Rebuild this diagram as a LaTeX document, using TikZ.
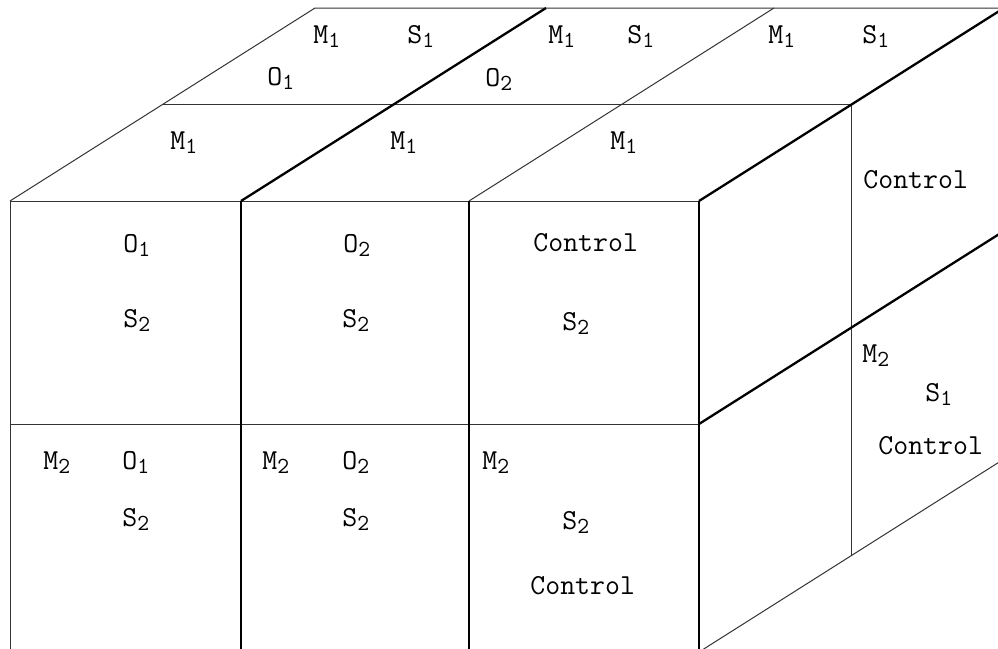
\documentclass[tikz,border=0pt]{standalone}
\usetikzlibrary{calc}
\newcommand{\sbs}[1]{\raisebox{-2.2pt}{\fontsize{11.5}{12}\selectfont #1}}
\begin{document}
\begin{tikzpicture}[x=0.5pt,y=-0.5pt,
  thinl/.style={line width=0.5pt, black!80},
  medl/.style={line width=0.8pt, black},
  thickl/.style={line width=1.15pt, black},
  lbl/.style={anchor=base west, inner sep=0pt, font=\fontsize{14.5}{17}\selectfont\ttfamily}]
\useasboundingbox (0,0) rectangle (998,649);
\clip (0,0) rectangle (998,649);
% front face
\coordinate (A0) at (10,201);
\coordinate (A1) at (241,201);
\coordinate (A2) at (469,201);
\coordinate (A3) at (699,201);
\coordinate (B0) at (10,424);
\coordinate (B3) at (699,424);
\coordinate (C0) at (10,652);
\coordinate (C1) at (241,652);
\coordinate (C2) at (469,652);
\coordinate (C3) at (699,652);
% depth vectors
\coordinate (H) at (152.5,-96.5);
\coordinate (D) at (305,-193);
% top face
\coordinate (T0) at ($(A0)+(D)$);
\coordinate (T1) at ($(A1)+(D)$);
\coordinate (T2) at ($(A2)+(D)$);
\coordinate (T3) at ($(A3)+(D)$);
\coordinate (M0) at ($(A0)+(H)$);
\coordinate (M3) at ($(A3)+(H)$);
\coordinate (R1) at ($(B3)+(D)$);
\coordinate (R2) at ($(C3)+(D)$);
\coordinate (MB) at ($(C3)+(H)$);
% thin / faint lines
\draw[thinl] (A0) -- (T0) -- (T3);
\draw[thinl] (M0) -- (M3);
\draw[thinl] (A2) -- (T2);
\draw[thinl] (A0) -- (A3);
\draw[thinl] (B0) -- (B3);
\draw[thinl] (A0) -- (C0);
\draw[thinl] (M3) -- (MB);
\draw[thinl] (C3) -- (R2);
% medium lines
\draw[medl] (A1) -- (C1);
\draw[medl] (A2) -- (C2);
% thick lines
\draw[thickl] (A1) -- (T1);
\draw[thickl] (A3) -- (T3);
\draw[thickl] (B3) -- (R1);
\draw[thickl] (A3) -- (C3);
% top face labels
\node[lbl] (tM1) at (313,43) {M\sbs{1}};
\node[lbl] (tS1) at (407,43) {S\sbs{1}};
\node[lbl] (tO1) at (267,85) {O\sbs{1}};
\node[lbl] (tM2) at (548,43) {M\sbs{1}};
\node[lbl] (tS2) at (627,43) {S\sbs{1}};
\node[lbl] (tO2) at (485,86) {O\sbs{2}};
\node[lbl] (tM3) at (768,43) {M\sbs{1}};
\node[lbl] (tS3) at (862,43) {S\sbs{1}};
\node[lbl] (fM1) at (170,149) {M\sbs{1}};
\node[lbl] (fM2) at (390,149) {M\sbs{1}};
\node[lbl] (fM3) at (610,149) {M\sbs{1}};
% right face labels
\node[lbl] (rC1) at (863,188) {Control};
\node[lbl] (rM2) at (862,362) {M\sbs{2}};
\node[lbl] (rS1) at (925,401) {S\sbs{1}};
\node[lbl] (rC2) at (878,454) {Control};
% front upper labels
\node[lbl] (uO1) at (123,252) {O\sbs{1}};
\node[lbl] (uS1) at (123,327) {S\sbs{2}};
\node[lbl] (uO2) at (343,252) {O\sbs{2}};
\node[lbl] (uS2) at (342,327) {S\sbs{2}};
\node[lbl] (uC3) at (533,251) {Control};
\node[lbl] (uS3) at (562,330) {S\sbs{2}};
% front lower labels
\node[lbl] (lM1) at (43,469) {M\sbs{2}};
\node[lbl] (lO1) at (122,469) {O\sbs{1}};
\node[lbl] (lS1) at (122,526) {S\sbs{2}};
\node[lbl] (lM2) at (262,469) {M\sbs{2}};
\node[lbl] (lO2) at (342,469) {O\sbs{2}};
\node[lbl] (lS2) at (342,526) {S\sbs{2}};
\node[lbl] (lM3) at (482,469) {M\sbs{2}};
\node[lbl] (lS3) at (562,529) {S\sbs{2}};
\node[lbl] (lC3) at (530,594) {Control};
\end{tikzpicture}
\end{document}
